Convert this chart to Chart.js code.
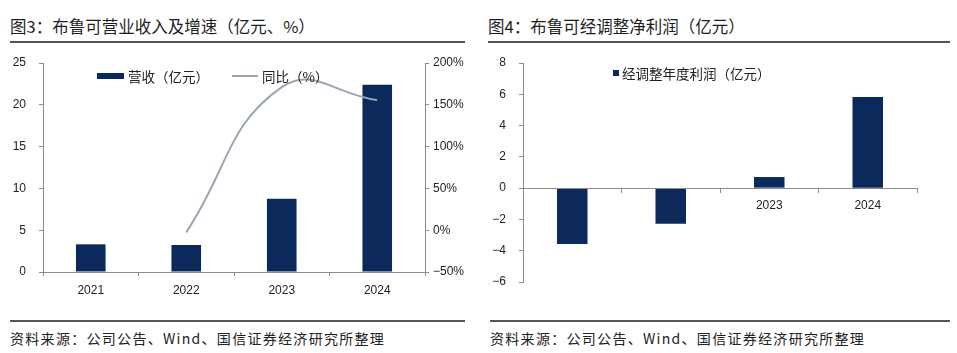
<!DOCTYPE html>
<html>
<head>
<meta charset="utf-8">
<script src="https://cdn.jsdelivr.net/npm/chart.js@4.4.0/dist/chart.umd.min.js"></script>
<style>
    html, body { margin: 0; padding: 0; background: #fff; }
    body { width: 957px; height: 353px; position: relative; overflow: hidden; font-family: "Noto Sans CJK SC", sans-serif; color: #222; }
    .abs { position: absolute; }
    .title { font-size: 16.5px; line-height: 20px; top: 16px; white-space: nowrap; color: #1e1e1e; }
    .rule { height: 2px; background: #555; }
    .src { font-size: 14px; line-height: 18px; top: 329px; white-space: nowrap; letter-spacing: 1.3px; color: #222; }
    .leg { font-size: 13.5px; line-height: 16px; white-space: nowrap; color: #222; }
</style>
</head>
<body>
<!-- Títulos -->
<div class="abs title" style="left:10px;">图3：布鲁可营业收入及增速（亿元、%）</div>
<div class="abs rule" style="left:10px; top:41px; width:455px;"></div>
<div class="abs title" style="left:488px;">图4：布鲁可经调整净利润（亿元）</div>
<div class="abs rule" style="left:488px; top:41px; width:462px;"></div>

<!-- Gráficos -->
<div class="abs" style="left:0; top:50px; width:475px; height:250px;"><canvas id="revenueChart"></canvas></div>
<div class="abs" style="left:480px; top:50px; width:477px; height:250px;"><canvas id="profitChart"></canvas></div>

<!-- Leyendas -->
<div class="abs" style="left:97px; top:73px; width:27px; height:6px; background:#0b2a5b;"></div>
<div class="abs leg" style="left:128px; top:68px;">营收（亿元）</div>
<div class="abs" style="left:232px; top:75px; width:26px; height:2px; background:#9aa6b4;"></div>
<div class="abs leg" style="left:262px; top:68px;">同比（%）</div>
<div class="abs" style="left:613px; top:70px; width:6px; height:6px; background:#0b2a5b;"></div>
<div class="abs leg" style="left:622px; top:65px;">经调整年度利润（亿元）</div>

<!-- Fuentes -->
<div class="abs rule" style="left:10px; top:320px; width:455px;"></div>
<div class="abs src" style="left:10px;">资料来源：公司公告、Wind、国信证券经济研究所整理</div>
<div class="abs rule" style="left:490px; top:320px; width:460px;"></div>
<div class="abs src" style="left:490px;">资料来源：公司公告、Wind、国信证券经济研究所整理</div>

<script>
// Datos
const years = ['2021', '2022', '2023', '2024'];
const revenue = [3.31, 3.23, 8.76, 22.41];       // 营收（亿元）
const revenueYoY = [null, -2.6, 171.1, 155.6];   // 同比（%）
const adjProfit = [-3.57, -2.27, 0.71, 5.83];    // 经调整年度利润（亿元）

const NAVY = '#0b2a5b';
const GREY_LINE = '#9aa6b4';
const AXIS = '#8c8c8c';
const tickFont = { family: '"Liberation Sans", Arial, sans-serif', size: 12 };
const minus = v => String(v).replace('-', '\u2212');

// ancho fijo del eje vertical sin el relleno extra de las etiquetas
const fixAxis = w => s => { s.width = w; s.paddingTop = 7; s.paddingBottom = 7; };

// Gráfico de ingresos y crecimiento
new Chart(document.getElementById('revenueChart'), {
    type: 'bar',
    data: {
        labels: years,
        datasets: [{
            type: 'line',
            label: '同比（%）',
            data: revenueYoY,
            yAxisID: 'y1',
            borderColor: GREY_LINE,
            borderWidth: 2,
            pointRadius: 0,
            tension: 0.45,
            order: 0
        }, {
            label: '营收（亿元）',
            data: revenue,
            yAxisID: 'y',
            backgroundColor: NAVY,
            barPercentage: 0.31,
            categoryPercentage: 1,
            order: 1
        }]
    },
    options: {
        responsive: true,
        maintainAspectRatio: false,
        animation: false,
        layout: { padding: { top: 13, left: 0, right: 0, bottom: 0 } },
        plugins: { legend: { display: false }, tooltip: { enabled: false } },
        scales: {
            x: {
                afterFit: s => { s.height = 28; },
                ticks: { color: '#222', font: tickFont, padding: 7 },
                grid: { offset: true, drawOnChartArea: false, tickLength: 4, color: AXIS },
                border: { color: AXIS }
            },
            y: {
                position: 'left',
                min: 0, max: 25,
                afterFit: fixAxis(43),
                ticks: { stepSize: 5, color: '#222', font: tickFont, padding: 13 },
                grid: { drawOnChartArea: false, tickLength: 4, color: AXIS },
                border: { color: AXIS }
            },
            y1: {
                position: 'right',
                min: -50, max: 200,
                afterFit: fixAxis(50),
                ticks: { stepSize: 50, color: '#222', font: tickFont, padding: 4, callback: v => minus(v) + '%' },
                grid: { drawOnChartArea: false, tickLength: 4, color: AXIS },
                border: { color: AXIS }
            }
        }
    }
});

// Gráfico de beneficio ajustado
new Chart(document.getElementById('profitChart'), {
    type: 'bar',
    data: {
        labels: years,
        datasets: [{
            label: '经调整年度利润（亿元）',
            data: adjProfit,
            backgroundColor: NAVY,
            barPercentage: 0.31,
            categoryPercentage: 1
        }]
    },
    options: {
        responsive: true,
        maintainAspectRatio: false,
        animation: false,
        layout: { padding: { top: 13, left: 0, right: 40, bottom: 18 } },
        plugins: { legend: { display: false }, tooltip: { enabled: false } },
        scales: {
            x: {
                position: { y: 0 },
                ticks: { color: '#222', font: tickFont, padding: 6 },
                grid: { offset: true, drawOnChartArea: false, tickLength: 4, color: AXIS, z: 1 },
                border: { color: AXIS, z: 1 },
                z: 1
            },
            y: {
                min: -6, max: 8,
                afterFit: fixAxis(43),
                ticks: { stepSize: 2, color: '#222', font: tickFont, padding: 13, callback: v => minus(v) },
                grid: { drawOnChartArea: false, tickLength: 4, color: AXIS },
                border: { color: AXIS }
            }
        }
    }
});
</script>
</body>
</html>
